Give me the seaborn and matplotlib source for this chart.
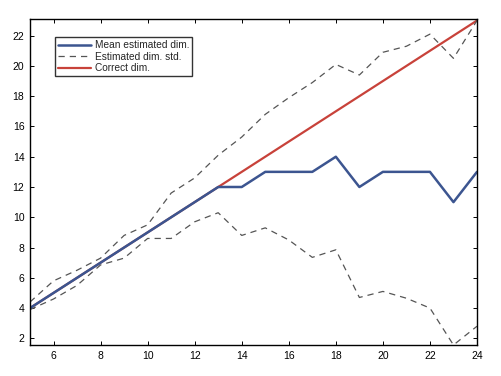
import matplotlib
matplotlib.use("Agg")
import matplotlib.pyplot as plt
import seaborn as sns
import pandas as pd

dims = list(range(5, 25))
mean_est = [4, 5, 6, 7, 8, 9, 10, 11, 12, 12, 13, 13, 13, 14, 12, 13, 13, 13, 11, 13]
std_upper = [4.4, 5.8, 6.5, 7.3, 8.8, 9.5, 11.6, 12.6, 14.1, 15.3, 16.8, 17.9, 18.9, 20.1, 19.4, 20.9, 21.3, 22.1, 20.5, 23.0]
std_lower = [3.9, 4.6, 5.5, 6.85, 7.3, 8.6, 8.6, 9.7, 10.3, 8.8, 9.3, 8.5, 7.35, 7.85, 4.7, 5.1, 4.65, 4.0, 1.56, 2.8]
correct = [4, 5, 6, 7, 8, 9, 10, 11, 12, 13, 14, 15, 16, 17, 18, 19, 20, 21, 22, 23]

df = pd.DataFrame({"dim": dims, "mean": mean_est, "up": std_upper,
                   "lo": std_lower, "correct": correct})

sns.set_style("ticks")
plt.rcParams['font.family'] = ['Liberation Sans', 'DejaVu Sans']

fig = plt.figure(figsize=(5.01, 3.76), dpi=100)
ax = fig.add_axes([30/501, 1 - 345/376, (477-30)/501, (345-19)/376])

blue = "#3c5590"
red = "#c8423a"
sns.lineplot(data=df, x="dim", y="correct", ax=ax, color=red, lw=1.6, label="Correct dim.")
sns.lineplot(data=df, x="dim", y="up", ax=ax, color="#555555", lw=0.9, label="Estimated dim. std.")
ax.lines[-1].set_dashes([5, 4])
sns.lineplot(data=df, x="dim", y="lo", ax=ax, color="#555555", lw=0.9)
ax.lines[-1].set_dashes([5, 4])
sns.lineplot(data=df, x="dim", y="mean", ax=ax, color=blue, lw=1.8, label="Mean estimated dim.")

ax.set_xlim(5, 24)
ax.set_ylim(1.56, 23.1)
ax.set_xticks(range(6, 25, 2))
ax.set_yticks(range(2, 23, 2))
ax.set_xlabel("")
ax.set_ylabel("")
for s in ax.spines.values():
    s.set_visible(True)
    s.set_linewidth(1.0)
    s.set_color("black")
ax.tick_params(direction="in", top=True, right=True, length=3, width=0.7,
               labelsize=7.5, colors="black", pad=4)

handles, labels = ax.get_legend_handles_labels()
order = ["Mean estimated dim.", "Estimated dim. std.", "Correct dim."]
hmap = dict(zip(labels, handles))
leg = ax.legend([hmap[o] for o in order], order, loc="upper left",
                bbox_to_anchor=(0.045, 0.96), fontsize=7.3,
                frameon=True, fancybox=False, handlelength=3.2, borderpad=0.3,
                labelspacing=0.15, handletextpad=0.4)
leg.get_frame().set_edgecolor("black")
leg.get_frame().set_linewidth(1.0)
leg.get_lines()[1].set_dashes([5, 4])

fig.savefig("out.png", dpi=100)
